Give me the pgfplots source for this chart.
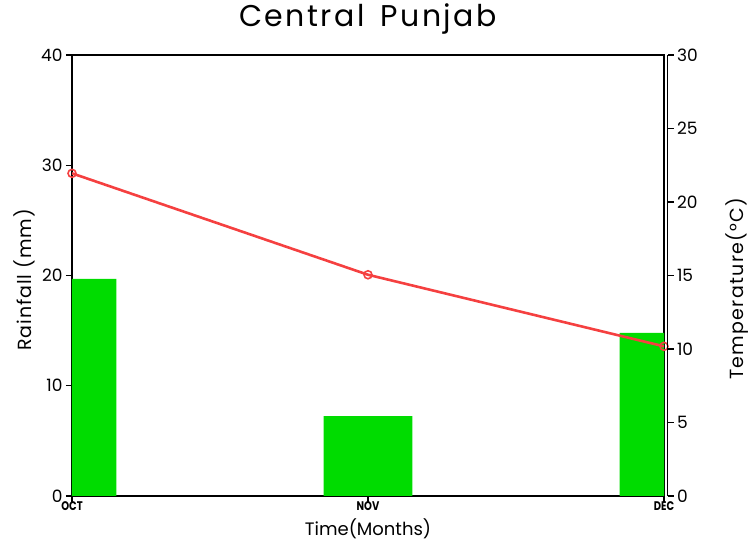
\documentclass[border=0pt]{standalone}
\usepackage{pgfplots}
\pgfplotsset{compat=1.18}
\usepackage{graphicx}
\usepackage{fontspec}
\setmainfont{Poppins}
\definecolor{bargreen}{RGB}{0,220,0}
\definecolor{linered}{RGB}{245,64,64}
\newcommand{\xt}[1]{\scalebox{0.8}[1]{#1}}
\begin{document}
\begin{tikzpicture}
\useasboundingbox (-72pt,-49pt) rectangle (677pt,496pt);
\begin{axis}[
  at={(0pt,0pt)}, anchor=south west,
  scale only axis, width=592pt, height=441pt,
  xmin=0, xmax=2, ymin=0, ymax=40,
  xtick={0,1,2}, xticklabels={\xt{OCT},\xt{NOV},\xt{DEC}},
  ytick={0,10,20,30,40},
  xtick pos=left, ytick pos=left,
  tick align=outside,
  major tick length=6pt,
  axis line style={line width=1.2pt},
  every tick/.style={black, line width=1.2pt},
  /pgf/number format/assume math mode=true,
  y tick label style={font=\fontsize{17}{20}\selectfont},
  x tick label style={font=\fontsize{12.5}{13}\selectfont\bfseries, yshift=4pt},
  title={Central\hspace{6pt} Punjab},
  title style={at={(axis description cs:0.5,1)}, anchor=base, yshift=22pt, font=\fontsize{30}{34}\selectfont\addfontfeatures{LetterSpace=8}},
  ylabel={Rainfall (mm)},
  ylabel style={at={(axis description cs:-0.081,0.49)}, anchor=center, font=\fontsize{19}{22}\selectfont\addfontfeatures{LetterSpace=5}},
  xlabel={Time(Months)},
  xlabel style={at={(axis description cs:0.5,0)}, anchor=base, yshift=-40pt, font=\fontsize{18}{20}\selectfont},
]
\addplot[ybar, bar width=0.3, bar shift=0pt, fill=bargreen, draw=none] coordinates {(0,19.7) (1,7.24) (2,14.8)};
\end{axis}
\begin{axis}[
  at={(0pt,0pt)}, anchor=south west,
  scale only axis, width=592pt, height=441pt,
  xmin=0, xmax=2, ymin=0, ymax=30,
  hide axis,
]
\addplot[linered, line width=2.6pt, mark=o, mark size=4pt, mark options={solid, fill=white, line width=1.6pt}] coordinates {(0,21.95) (1,15.05) (2,10.18)};
\end{axis}
\begin{axis}[
  at={(3.5pt,0pt)}, anchor=south west,
  scale only axis, width=592pt, height=441pt,
  xmin=0, xmax=2, ymin=0, ymax=30,
  axis y line*=right, axis x line=none,
  ytick={0,5,10,15,20,25,30},
  tick align=outside,
  major tick length=6pt,
  axis line style={line width=1.2pt, -},
  every tick/.style={black, line width=1.2pt},
  /pgf/number format/assume math mode=true,
  y tick label style={font=\fontsize{17}{20}\selectfont},
  ylabel={Temperature(°C)},
  ylabel style={at={(axis description cs:1.118,0.47)}, anchor=center, font=\fontsize{19}{22}\selectfont\addfontfeatures{LetterSpace=7}},
]
\addplot[draw=none] coordinates {(0,0)};
\end{axis}
\end{tikzpicture}
\end{document}
